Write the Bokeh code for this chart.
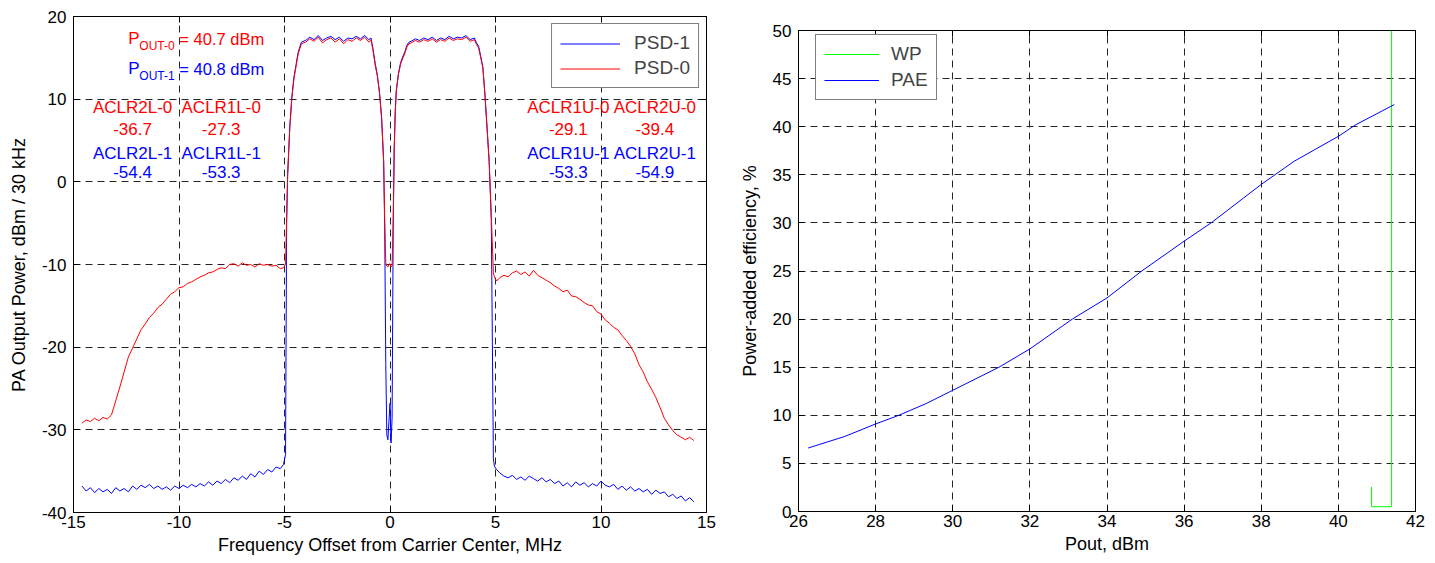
from bokeh.plotting import figure
from bokeh.models import (Legend, LegendItem, LinearAxis, FixedTicker, Range1d)
from bokeh.layouts import row, column
from bokeh.core.properties import value
from bokeh.embed import file_html
from bokeh.resources import INLINE

FONT = "Liberation Sans"

# ---------------- Left chart data: PSD vs frequency offset (MHz) ----------------
freq_left_oob = [-14.6, -14.4, -14.2, -14.0, -13.8, -13.6, -13.4, -13.2, -13.0, -12.8,
                 -12.6, -12.4, -12.2, -12.0, -11.8, -11.6, -11.4, -11.2, -11.0, -10.8,
                 -10.6, -10.4, -10.2, -10.0, -9.8, -9.6, -9.4, -9.2, -9.0, -8.8,
                 -8.6, -8.4, -8.2, -8.0, -7.8, -7.6, -7.4, -7.2, -7.0, -6.8,
                 -6.6, -6.4, -6.2, -6.0, -5.8, -5.6, -5.4, -5.2]
freq_left_edge = [-5.05, -4.95, -4.9, -4.85, -4.75, -4.65, -4.55, -4.45, -4.35, -4.2]
freq_band_l = [-4.0, -3.8, -3.6, -3.4, -3.2, -3.0, -2.8, -2.6, -2.4, -2.2, -2.0, -1.8,
               -1.6, -1.4, -1.2, -1.0, -0.9]
freq_center = [-0.8, -0.7, -0.6, -0.5, -0.4, -0.3, -0.25, -0.2, -0.15, -0.1, -0.05, 0.0,
               0.05, 0.1, 0.15, 0.2, 0.25, 0.3, 0.4, 0.5, 0.6, 0.7, 0.8, 0.9]
freq_band_r = [1.0, 1.2, 1.4, 1.6, 1.8, 2.0, 2.2, 2.4, 2.6, 2.8, 3.0, 3.2, 3.4, 3.6,
               3.8, 4.0, 4.1]
freq_right_edge = [4.2, 4.3, 4.4, 4.5, 4.6, 4.7, 4.8, 4.9, 4.95, 5.05]
freq_right_oob = [5.2, 5.4, 5.6, 5.8, 6.0, 6.2, 6.4, 6.6, 6.8, 7.0,
                  7.2, 7.4, 7.6, 7.8, 8.0, 8.2, 8.4, 8.6, 8.8, 9.0,
                  9.2, 9.4, 9.6, 9.8, 10.0, 10.2, 10.4, 10.6, 10.8, 11.0,
                  11.2, 11.4, 11.6, 11.8, 12.0, 12.2, 12.4, 12.6, 12.8, 13.0,
                  13.2, 13.4, 13.6, 13.8, 14.0, 14.2, 14.4]

# PSD-0 (red)
psd0_left_oob = [-29.2, -28.8, -29.0, -28.6, -28.9, -28.5, -28.7, -28.2, -26.5, -24.8,
                 -23.0, -21.2, -20.1, -19.0, -17.9, -17.2, -16.4, -15.9, -15.2, -14.8,
                 -14.2, -13.6, -13.3, -12.8, -12.7, -12.3, -12.1, -11.8, -11.5, -11.3,
                 -11.0, -10.9, -10.6, -10.4, -10.5, -10.0, -9.9, -10.2, -9.8, -10.1,
                 -10.0, -10.3, -9.9, -10.1, -10.0, -10.2, -10.1, -10.5]
psd0_left_edge = [-10.4, -10.0, -4.5, 1.0, 6.5, 10.2, 12.5, 14.0, 15.5, 16.7]
psd0_band_l = [16.9, 17.3, 17.0, 17.5, 16.8, 17.2, 17.4, 16.9, 17.3, 16.7, 17.2, 17.0,
               17.4, 17.1, 17.5, 16.9, 17.2]
psd0_center = [15.8, 14.1, 12.8, 10.8, 7.8, 2.5, -4.7, -9.8, -10.2, -10.3, -10.0, -9.9,
               -10.3, -10.1, -4.7, 4.0, 8.5, 11.0, 13.0, 14.2, 14.9, 15.5, 16.3, 16.7]
psd0_band_r = [16.8, 17.1, 16.9, 17.2, 17.0, 17.3, 16.9, 17.2, 17.0, 17.4, 17.1, 17.3,
               17.2, 17.5, 17.0, 17.2, 16.6]
psd0_right_edge = [16.2, 15.0, 13.8, 10.5, 6.5, 2.5, -4.0, -11.0, -11.5, -12.0]
psd0_right_oob = [-11.6, -11.3, -11.5, -11.0, -10.8, -11.2, -10.9, -11.4, -10.7, -11.3,
                  -11.6, -11.9, -12.2, -12.6, -12.9, -13.3, -13.1, -13.8, -13.9, -14.2,
                  -14.6, -14.9, -15.0, -15.7, -16.0, -16.7, -17.1, -17.6, -17.9, -18.6,
                  -19.2, -19.9, -20.8, -22.1, -23.0, -24.2, -25.1, -26.1, -27.3, -28.6,
                  -29.4, -30.1, -30.6, -30.9, -31.2, -30.9, -31.3]

# PSD-1 (blue)
psd1_left_oob = [-36.8, -37.4, -37.0, -37.6, -37.1, -37.5, -37.2, -37.7, -37.0, -37.4,
                 -37.1, -37.5, -36.8, -37.2, -36.7, -37.0, -36.6, -37.1, -36.8, -37.2,
                 -36.9, -37.3, -36.8, -37.1, -36.7, -37.0, -36.6, -36.9, -36.5, -36.8,
                 -36.3, -36.7, -36.2, -36.5, -36.0, -36.4, -35.8, -36.1, -35.6, -36.0,
                 -35.3, -35.7, -35.0, -35.4, -34.8, -35.1, -34.5, -34.7]
psd1_left_edge = [-34.2, -33.0, -5.0, 0.8, 6.6, 10.3, 12.7, 14.2, 15.7, 16.9]
psd1_band_l = [17.1, 17.5, 17.2, 17.7, 17.1, 17.4, 17.6, 17.2, 17.5, 17.0, 17.4, 17.3,
               17.6, 17.3, 17.7, 17.2, 17.4]
psd1_center = [16.0, 14.3, 12.9, 10.9, 7.9, 2.4, -6.0, -22.0, -30.6, -31.2, -29.0, -26.8,
               -31.6, -28.5, -6.0, 4.1, 8.6, 11.1, 13.1, 14.4, 15.1, 15.7, 16.5, 16.9]
psd1_band_r = [17.0, 17.3, 17.1, 17.4, 17.2, 17.5, 17.1, 17.4, 17.2, 17.6, 17.3, 17.5,
               17.4, 17.7, 17.2, 17.4, 16.8]
psd1_right_edge = [16.4, 15.2, 13.9, 10.6, 6.6, 2.4, -4.5, -33.5, -34.4, -34.8]
psd1_right_oob = [-35.2, -35.6, -35.8, -35.5, -36.0, -35.7, -36.1, -35.6, -35.9, -36.2,
                  -35.8, -36.3, -36.0, -36.5, -36.2, -36.8, -36.4, -36.9, -36.3, -36.7,
                  -36.4, -36.9, -36.5, -36.8, -36.2, -36.7, -36.9, -36.6, -37.2, -36.8,
                  -37.3, -36.9, -37.4, -37.1, -37.5, -37.2, -37.8, -37.3, -37.7, -37.5,
                  -38.1, -37.8, -38.3, -38.0, -38.6, -38.2, -38.7]

freq = (freq_left_oob + freq_left_edge + freq_band_l + freq_center + freq_band_r
        + freq_right_edge + freq_right_oob)
psd0 = (psd0_left_oob + psd0_left_edge + psd0_band_l + psd0_center + psd0_band_r
        + psd0_right_edge + psd0_right_oob)
psd1 = (psd1_left_oob + psd1_left_edge + psd1_band_l + psd1_center + psd1_band_r
        + psd1_right_edge + psd1_right_oob)

# Annotations
pout_labels = ["OUT-0", "OUT-1"]
pout_values = ["= 40.7 dBm", "= 40.8 dBm"]
pout_colors = ["#ff0000", "#0000ff"]
aclr_names = ["ACLR2L", "ACLR1L", "ACLR1U", "ACLR2U"]
aclr_0 = ["-36.7", "-27.3", "-29.1", "-39.4"]
aclr_1 = ["-54.4", "-53.3", "-53.3", "-54.9"]

# ---------------- Right chart data: PAE vs Pout ----------------
pout_dbm = [26.25, 27.2, 28.0, 28.6, 29.3, 30.0, 31.2, 32.0, 33.1, 34.0, 34.9, 36.0,
            36.7, 38.0, 38.85, 40.0, 40.45, 41.45]
pae_pct = [6.6, 7.8, 9.1, 10.0, 11.2, 12.6, 15.0, 16.9, 20.0, 22.2, 25.0, 28.1,
           30.0, 34.0, 36.4, 39.0, 40.2, 42.3]
wp_x = [40.86, 40.86, 41.38, 41.38]
wp_y = [2.55, 0.5, 0.5, 50.0]

x1_ticks = [-15, -10, -5, 0, 5, 10, 15]
y1_ticks = [-40, -30, -20, -10, 0, 10, 20]
x2_ticks = [26, 28, 30, 32, 34, 36, 38, 40, 42]
y2_ticks = [0, 5, 10, 15, 20, 25, 30, 35, 40, 45, 50]

TICK_FS = "17px"
LABEL_FS = "18px"
LEG_FS = "19px"
ANN_FS = "17px"
POUT_FS = "16.5px"
GRID_DASH = "7 5"
GRID_COLOR = "#262626"


def style(p, xt, yt, xlabel, ylabel):
    p.title.visible = False
    p.outline_line_color = "black"
    p.outline_line_width = 1
    p.xaxis.ticker = FixedTicker(ticks=xt)
    p.yaxis.ticker = FixedTicker(ticks=yt)
    p.xaxis.major_label_overrides = {t: str(t) for t in xt}
    p.yaxis.major_label_overrides = {t: str(t) for t in yt}
    p.xaxis.axis_label = xlabel
    p.yaxis.axis_label = ylabel
    for ax in (p.xaxis[0], p.yaxis[0]):
        ax.major_label_text_font = FONT
        ax.major_label_text_font_size = TICK_FS
        ax.major_label_text_color = "black"
        ax.axis_label_text_font = FONT
        ax.axis_label_text_font_size = LABEL_FS
        ax.axis_label_text_font_style = "normal"
        ax.axis_label_text_color = "black"
        ax.major_tick_in = 6
        ax.major_tick_out = 0
        ax.minor_tick_line_color = None
        ax.axis_line_color = "black"
        ax.major_tick_line_color = "black"
    p.xaxis.major_label_standoff = 3
    p.yaxis.major_label_standoff = 7
    p.yaxis.axis_label_standoff = 10
    p.xaxis.axis_label_standoff = 4
    p.grid.grid_line_color = GRID_COLOR
    p.grid.grid_line_dash = GRID_DASH
    p.grid.grid_line_width = 1
    p.xgrid.ticker = FixedTicker(ticks=xt)
    p.ygrid.ticker = FixedTicker(ticks=yt)
    for side, t in (("above", xt), ("right", yt)):
        a = LinearAxis(ticker=FixedTicker(ticks=t), major_label_text_font_size="1px",
                       major_label_text_color=None,
                       major_label_standoff=0, major_tick_in=6, major_tick_out=0,
                       minor_tick_line_color=None, axis_line_color="black")
        p.add_layout(a, side)


# ---------------- Left figure ----------------
p1 = figure(width=720, height=563, x_range=Range1d(-15, 15), y_range=Range1d(-40, 20),
            output_backend="svg", toolbar_location=None,
            min_border_left=73, min_border_right=14, min_border_top=16, min_border_bottom=51)
style(p1, x1_ticks, y1_ticks, "Frequency Offset from Carrier Center, MHz",
      "PA Output Power, dBm / 30 kHz")

r1 = p1.line(freq, psd1, line_color="#0000ff", line_width=1)
r0 = p1.line(freq, psd0, line_color="#ff0000", line_width=1)

leg1 = Legend(items=[LegendItem(label="PSD-1", renderers=[r1]),
                     LegendItem(label="PSD-0", renderers=[r0])],
              location="top_right", margin=7, padding=8, spacing=3,
              glyph_width=60, glyph_height=21, label_standoff=14,
              label_text_font=FONT, label_text_font_size=LEG_FS,
              border_line_color="black", border_line_width=1,
              background_fill_color="white", background_fill_alpha=1)
p1.add_layout(leg1)

# P_OUT annotations (anchor in data units)
pout_x = [-12.4, -12.4]
pout_y = [17.3, 13.7]
p1.text(x=pout_x, y=pout_y, text=["P", "P"], text_color=pout_colors,
        text_font=value(FONT), text_font_size=ANN_FS, text_align="left",
        text_baseline="middle")
p1.text(x=pout_x, y=pout_y, text=pout_labels, text_color=pout_colors,
        text_font=value(FONT), text_font_size="12px", text_align="left",
        text_baseline="middle", x_offset=11, y_offset=7)
p1.text(x=pout_x, y=pout_y, text=pout_values, text_color=pout_colors,
        text_font=value(FONT), text_font_size=POUT_FS, text_align="left",
        text_baseline="middle", x_offset=51)

# ACLR annotations
aclr_x = [-12.2, -8.0, 8.45, 12.55]
rows_y = [9.0, 6.45, 3.45, 1.15]
for txt, yy, col in ((["%s-0" % n for n in aclr_names], rows_y[0], "#ff0000"),
                     (aclr_0, rows_y[1], "#ff0000"),
                     (["%s-1" % n for n in aclr_names], rows_y[2], "#0000ff"),
                     (aclr_1, rows_y[3], "#0000ff")):
    p1.text(x=aclr_x, y=[yy] * 4, text=txt, text_color=col, text_font=value(FONT),
            text_font_size=ANN_FS, text_align="center", text_baseline="middle")

# ---------------- Right figure ----------------
p2 = figure(width=715, height=563, x_range=Range1d(26, 42), y_range=Range1d(0, 50),
            output_backend="svg", toolbar_location=None,
            min_border_left=78, min_border_right=20, min_border_top=30, min_border_bottom=52)
style(p2, x2_ticks, y2_ticks, "Pout, dBm", "Power-added efficiency, %")

rw = p2.line(wp_x, wp_y, line_color="#00ff00", line_width=1)
rp = p2.line(pout_dbm, pae_pct, line_color="#0000ff", line_width=1)
leg2 = Legend(items=[LegendItem(label="WP", renderers=[rw]),
                     LegendItem(label="PAE", renderers=[rp])],
              location=(17, 411), padding=8, spacing=4,
              glyph_width=55, glyph_height=20, label_standoff=12,
              label_text_font=FONT, label_text_font_size=LEG_FS,
              border_line_color="black", border_line_width=1,
              background_fill_color="white", background_fill_alpha=1)
p2.add_layout(leg2)

layout = row(column(p1), column(p2))
open("out.html", "w").write(file_html(layout, INLINE))
